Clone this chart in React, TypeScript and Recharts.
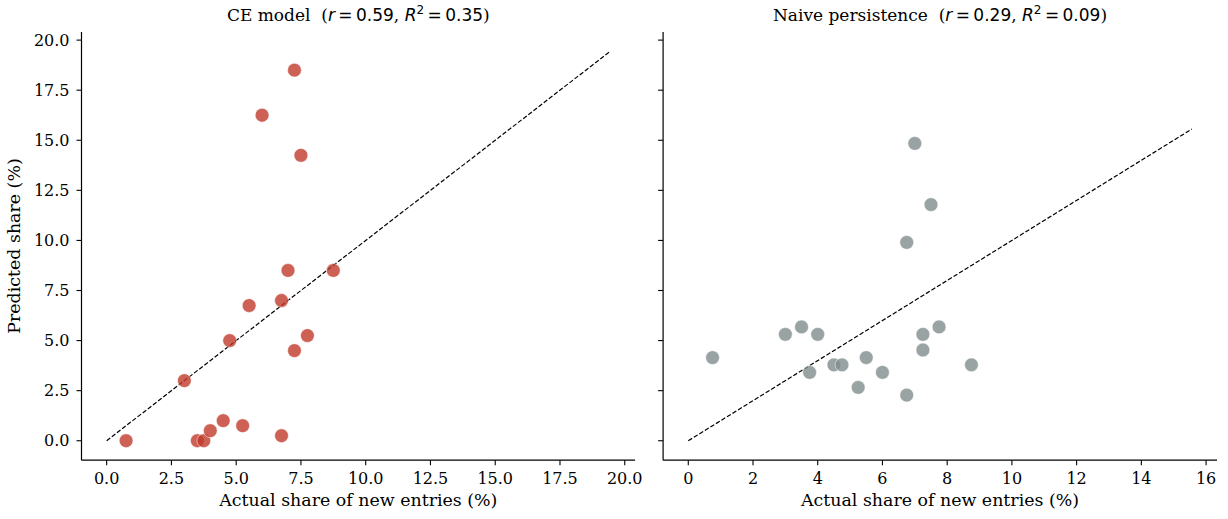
import React from 'react';
import { ScatterChart, Scatter, XAxis, YAxis, ReferenceLine } from 'recharts';

// Actual share of new entries (%), shared by both panels
const actualShare = [0.75, 3.0, 3.5, 3.75, 4.0, 4.5, 4.75, 5.25, 5.5, 6.0, 6.75, 6.75, 7.0, 7.25, 7.25, 7.5, 7.75, 8.75];
// Predicted share (%) – CE model
const cePred = [0, 3.0, 0, 0, 0.5, 1.0, 5.0, 0.75, 6.75, 16.25, 0.25, 7.0, 8.5, 18.5, 4.5, 14.25, 5.25, 8.5];
// Predicted share (%) – naive persistence
const naivePred = [4.15, 5.31, 5.68, 3.41, 5.31, 3.79, 3.79, 2.66, 4.15, 3.41, 9.9, 2.28, 14.84, 5.31, 4.53, 11.79, 5.68, 3.79];

// tick labels
const leftTicks = [0, 2.5, 5, 7.5, 10, 12.5, 15, 17.5, 20];
const rightXTicks = [0, 2, 4, 6, 8, 10, 12, 14, 16];
// diagonal (y = x) extents
const diagLeft = [0, 19.43];
const diagRight = [0, 15.56];
// axis limits
const leftLim = [-0.9715, 20.4];
const rightXLim = [-0.778, 16.338];

const ceData = actualShare.map((x, i) => ({ x, y: cePred[i] }));
const naiveData = actualShare.map((x, i) => ({ x, y: naivePred[i] }));

const RED = '#c0392b';
const GRAY = '#7f8c8d';
const SERIF = "'DejaVu Serif', serif";
const SANS = "'DejaVu Sans', sans-serif";
const TICK_FS = 16;
const LABEL_FS = 17.4;

const makeDot = (color: string) => (props: any) => (
  <circle cx={props.cx} cy={props.cy} r={6.9} fill={color} fillOpacity={0.8} stroke="#ffffff" strokeWidth={0.5} />
);

const axisLine = { stroke: '#000', strokeWidth: 1.2 };
const tickLine = { stroke: '#000', strokeWidth: 1.1 };
const tickStyle = { fill: '#000', fontSize: TICK_FS, fontFamily: SERIF };

const Title = ({ x, name, r, r2 }: { x: number; name: string; r: string; r2: string }) => (
  <text x={x} y={21} textAnchor="middle" fontSize={17} fill="#000">
    <tspan fontFamily={SERIF}>{name}{'\u00a0\u00a0'}(</tspan>
    <tspan fontFamily={SANS} fontStyle="italic">r</tspan>
    <tspan fontFamily={SANS}>{'\u2009=\u20090.'}{r}</tspan>
    <tspan fontFamily={SERIF}>, </tspan>
    <tspan fontFamily={SANS} fontStyle="italic">R</tspan>
    <tspan fontFamily={SANS} fontSize={12} dy={-7}>2</tspan>
    <tspan fontFamily={SANS} dy={7}>{'\u2009=\u20090.'}{r2}</tspan>
    <tspan fontFamily={SERIF}>)</tspan>
  </text>
);

export default function App() {
  return (
    <div style={{ position: 'absolute', left: 0, top: 0, width: 1228, height: 519, background: '#fff' }}>
      <div style={{ position: 'absolute', left: 0, top: 0 }}>
        <ScatterChart width={660} height={519} margin={{ top: 32.1, right: 24.9, bottom: 0, left: 0 }}>
          <XAxis
            type="number"
            dataKey="x"
            domain={leftLim}
            ticks={leftTicks}
            allowDataOverflow
            height={58.8}
            tickSize={5}
            tickMargin={7}
            axisLine={axisLine}
            tickLine={tickLine}
            tick={tickStyle}
            tickFormatter={(v: number) => v.toFixed(1)}
            interval={0}
          />
          <YAxis
            type="number"
            dataKey="y"
            domain={leftLim}
            ticks={leftTicks}
            allowDataOverflow
            width={81.5}
            tickSize={5}
            tickMargin={7}
            axisLine={axisLine}
            tickLine={tickLine}
            tick={tickStyle}
            tickFormatter={(v: number) => v.toFixed(1)}
            interval={0}
          />
          <Scatter data={ceData} shape={makeDot(RED)} isAnimationActive={false} />
          <ReferenceLine
            segment={[{ x: diagLeft[0], y: diagLeft[0] }, { x: diagLeft[1], y: diagLeft[1] }]}
            stroke="#000"
            strokeWidth={1.2}
            strokeDasharray="4.5 2"
            ifOverflow="visible"
          />
        </ScatterChart>
      </div>
      <div style={{ position: 'absolute', left: 600, top: 0 }}>
        <ScatterChart width={628} height={519} margin={{ top: 32.1, right: 11, bottom: 0, left: 0 }}>
          <XAxis
            type="number"
            dataKey="x"
            domain={rightXLim}
            ticks={rightXTicks}
            allowDataOverflow
            height={58.8}
            tickSize={5}
            tickMargin={7}
            axisLine={axisLine}
            tickLine={tickLine}
            tick={tickStyle}
            interval={0}
          />
          <YAxis
            type="number"
            dataKey="y"
            domain={leftLim}
            ticks={leftTicks}
            allowDataOverflow
            width={63.1}
            tickSize={5}
            tickMargin={7}
            axisLine={axisLine}
            tickLine={tickLine}
            tick={tickStyle}
            tickFormatter={() => ''}
            interval={0}
          />
          <Scatter data={naiveData} shape={makeDot(GRAY)} isAnimationActive={false} />
          <ReferenceLine
            segment={[{ x: diagRight[0], y: diagRight[0] }, { x: diagRight[1], y: diagRight[1] }]}
            stroke="#000"
            strokeWidth={1.2}
            strokeDasharray="4.5 2"
            ifOverflow="visible"
          />
        </ScatterChart>
      </div>
      <svg
        width={1228}
        height={519}
        style={{ position: 'absolute', left: 0, top: 0, pointerEvents: 'none' }}
      >
        <Title x={358.3} name="CE model" r="59" r2="35" />
        <Title x={940} name="Naive persistence" r="29" r2="09" />
        <text x={358.3} y={506} textAnchor="middle" fontSize={LABEL_FS} fontFamily={SERIF} fill="#000">
          Actual share of new entries (%)
        </text>
        <text x={940} y={506} textAnchor="middle" fontSize={LABEL_FS} fontFamily={SERIF} fill="#000">
          Actual share of new entries (%)
        </text>
        <text
          x={0}
          y={0}
          transform="translate(20, 246) rotate(-90)"
          textAnchor="middle"
          fontSize={LABEL_FS}
          fontFamily={SERIF}
          fill="#000"
        >
          Predicted share (%)
        </text>
      </svg>
    </div>
  );
}
